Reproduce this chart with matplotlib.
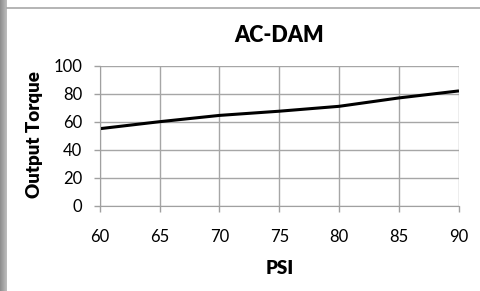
import matplotlib
matplotlib.use("Agg")
import matplotlib.pyplot as plt
import numpy as np
from matplotlib.lines import Line2D

psi = [60, 65, 70, 75, 80, 85, 90]
torque = [55, 60, 64.5, 67.5, 71, 77, 82]
x_ticks = [60, 65, 70, 75, 80, 85, 90]
y_ticks = [0, 20, 40, 60, 80, 100]
title = "AC-DAM"
xlabel = "PSI"
ylabel = "Output Torque"

plt.rcParams['font.family'] = ['Lato', 'DejaVu Sans']

W, H = 481, 291
fig = plt.figure(figsize=(W/100, H/100), dpi=100)
fig.patch.set_facecolor('white')

# left gray frame strip with gradient
grad = np.linspace(0.55, 0.75, 50).reshape(1, -1)
bg = fig.add_axes([0, 0, 7/W, 1])
bg.imshow(grad, cmap='gray', vmin=0, vmax=1, aspect='auto', extent=[0, 1, 0, 1])
bg.axis('off')
fig.add_artist(Line2D([7/W, 1], [1-8/H, 1-8/H], color='#a8a8a8', lw=1.2, transform=fig.transFigure))

x0, x1 = 99.7, 459.0
y_top, y_bot = 65.7, 205.7
ax = fig.add_axes([x0/W, 1 - y_bot/H, (x1-x0)/W, (y_bot-y_top)/H])
ax.plot(psi, torque, color='black', lw=2.2, solid_capstyle='butt')
ax.set_xlim(60, 90)
ax.set_ylim(0, 100)
ax.set_xticks(x_ticks)
ax.set_yticks(y_ticks)
ax.grid(True, color='#a6a6a6', lw=1.0)
ax.set_axisbelow(True)
for s in ax.spines.values():
    s.set_visible(False)
ax.spines['left'].set_visible(True)
ax.spines['bottom'].set_visible(True)
ax.spines['left'].set_color('#a0a0a0')
ax.spines['bottom'].set_color('#a0a0a0')
ax.tick_params(axis='both', colors='#a0a0a0', labelcolor='black', length=4.3, width=1,
               labelsize=12)
ax.tick_params(axis='x', pad=12.5)
ax.tick_params(axis='y', pad=8.4)

fig.text((x0+x1)/2/W, 1 - 36/H, title, ha='center', va='center', fontsize=15.5, fontweight=800)
fig.text((x0+x1)/2/W, 1 - 268.5/H, xlabel, ha='center', va='center', fontsize=13.5, fontweight=800)
fig.text(34.5/W, 1 - 135/H, ylabel, ha='center', va='center', rotation=90, fontsize=13.5, fontweight=800)

fig.savefig("out.png", dpi=100)
